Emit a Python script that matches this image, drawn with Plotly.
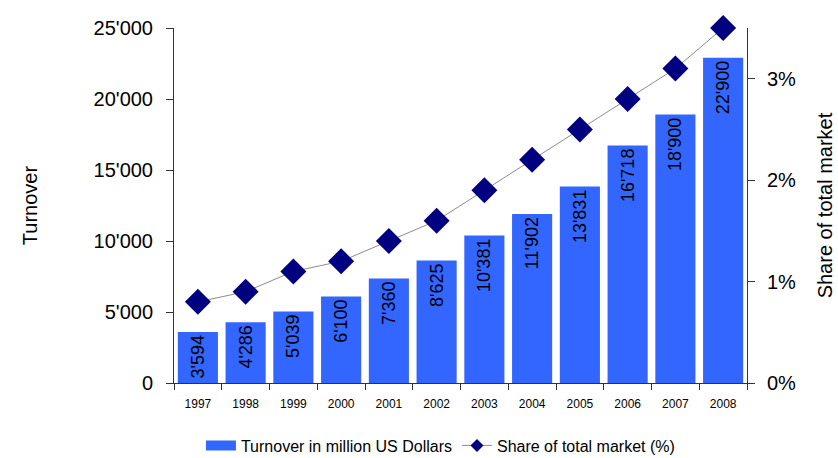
import plotly.graph_objects as go

years = ["1997", "1998", "1999", "2000", "2001", "2002",
         "2003", "2004", "2005", "2006", "2007", "2008"]
turnover = [3594, 4286, 5039, 6100, 7360, 8625, 10381, 11902, 13831, 16718, 18900, 22900]
share = [0.8, 0.9, 1.1, 1.2, 1.4, 1.6, 1.9, 2.2, 2.5, 2.8, 3.1, 3.5]
share_ticks = [0, 1, 2, 3]
share_tick_labels = ["0%", "1%", "2%", "3%"]

FONT = "Liberation Sans, Arial, sans-serif"
AXIS = "#333333"
LINE = "#8c8c8c"
NAVY = "#000080"
BLUE = "#3366FF"

turnover_labels = [f"{v:,}".replace(",", "'") for v in turnover]

fig = go.Figure()
fig.add_trace(go.Bar(
    x=years, y=turnover, name="Turnover in million US Dollars",
    marker=dict(color=BLUE, line=dict(width=0)),
    text=turnover_labels, textposition="inside", insidetextanchor="end",
    textangle=-90, textfont=dict(family=FONT, size=18, color="black"),
    constraintext="none", yaxis="y", showlegend=False,
))
fig.add_trace(go.Scatter(
    x=years, y=share, name="Share of total market (%)", yaxis="y2",
    mode="lines+markers", line=dict(color=LINE, width=1),
    marker=dict(symbol="diamond", size=20, color=NAVY),
    cliponaxis=False, showlegend=False,
))
# legend entries: a wide blue swatch for the bars, a small diamond for the line
fig.add_trace(go.Scatter(
    x=[years[0]], y=[None], name="Turnover in million US Dollars", yaxis="y",
    mode="lines", line=dict(color=BLUE, width=10),
))
fig.add_trace(go.Scatter(
    x=[years[0]], y=[None], name="Share of total market (%)", yaxis="y2",
    mode="lines+markers", line=dict(color=LINE, width=1),
    marker=dict(symbol="diamond", size=10, color=NAVY),
))

fig.update_layout(
    width=838, height=458,
    margin=dict(l=174, r=91, t=28, b=75, autoexpand=False),
    plot_bgcolor="white", paper_bgcolor="white",
    font=dict(family=FONT, color="black"),
    separators=".'",
    bargap=0.16,
    showlegend=True,
    legend=dict(orientation="h", x=0.465, xanchor="center", y=-0.176, yanchor="middle",
                font=dict(size=16), tracegroupgap=0),
    xaxis=dict(
        type="category", range=[-0.5, len(years) - 0.5],
        showline=True, linecolor=AXIS, linewidth=1,
        ticks="outside", ticklen=6, tickcolor=AXIS, tickson="boundaries",
        tickfont=dict(size=12), ticklabelstandoff=10,
        showgrid=False, zeroline=False, automargin=False,
    ),
    yaxis=dict(
        range=[0, 25000], dtick=5000, tickformat=",d",
        showline=True, linecolor=AXIS, linewidth=1,
        ticks="outside", ticklen=7, tickcolor=AXIS,
        tickfont=dict(size=20), ticklabelstandoff=9,
        showgrid=False, zeroline=False, automargin=False,
        title=dict(text="Turnover", font=dict(size=20), standoff=50),
    ),
    yaxis2=dict(
        range=[0, 3.5], tickvals=share_ticks, ticktext=share_tick_labels,
        overlaying="y", side="right",
        showline=True, linecolor=AXIS, linewidth=1,
        ticks="outside", ticklen=7, tickcolor=AXIS,
        tickfont=dict(size=20), ticklabelstandoff=8,
        showgrid=False, zeroline=False, automargin=False,
        title=dict(text="Share of total market", font=dict(size=20), standoff=22),
    ),
    # inner halves of the crossing tick marks
    yaxis3=dict(
        range=[0, 25000], dtick=5000, overlaying="y", side="left",
        ticks="inside", ticklen=7, tickcolor=AXIS, showticklabels=False,
        showline=False, showgrid=False, zeroline=False, automargin=False,
    ),
    yaxis4=dict(
        range=[0, 3.5], tickvals=share_ticks, overlaying="y", side="right",
        ticks="inside", ticklen=7, tickcolor=AXIS, showticklabels=False,
        showline=False, showgrid=False, zeroline=False, automargin=False,
    ),
)

fig.write_html("out.html")
